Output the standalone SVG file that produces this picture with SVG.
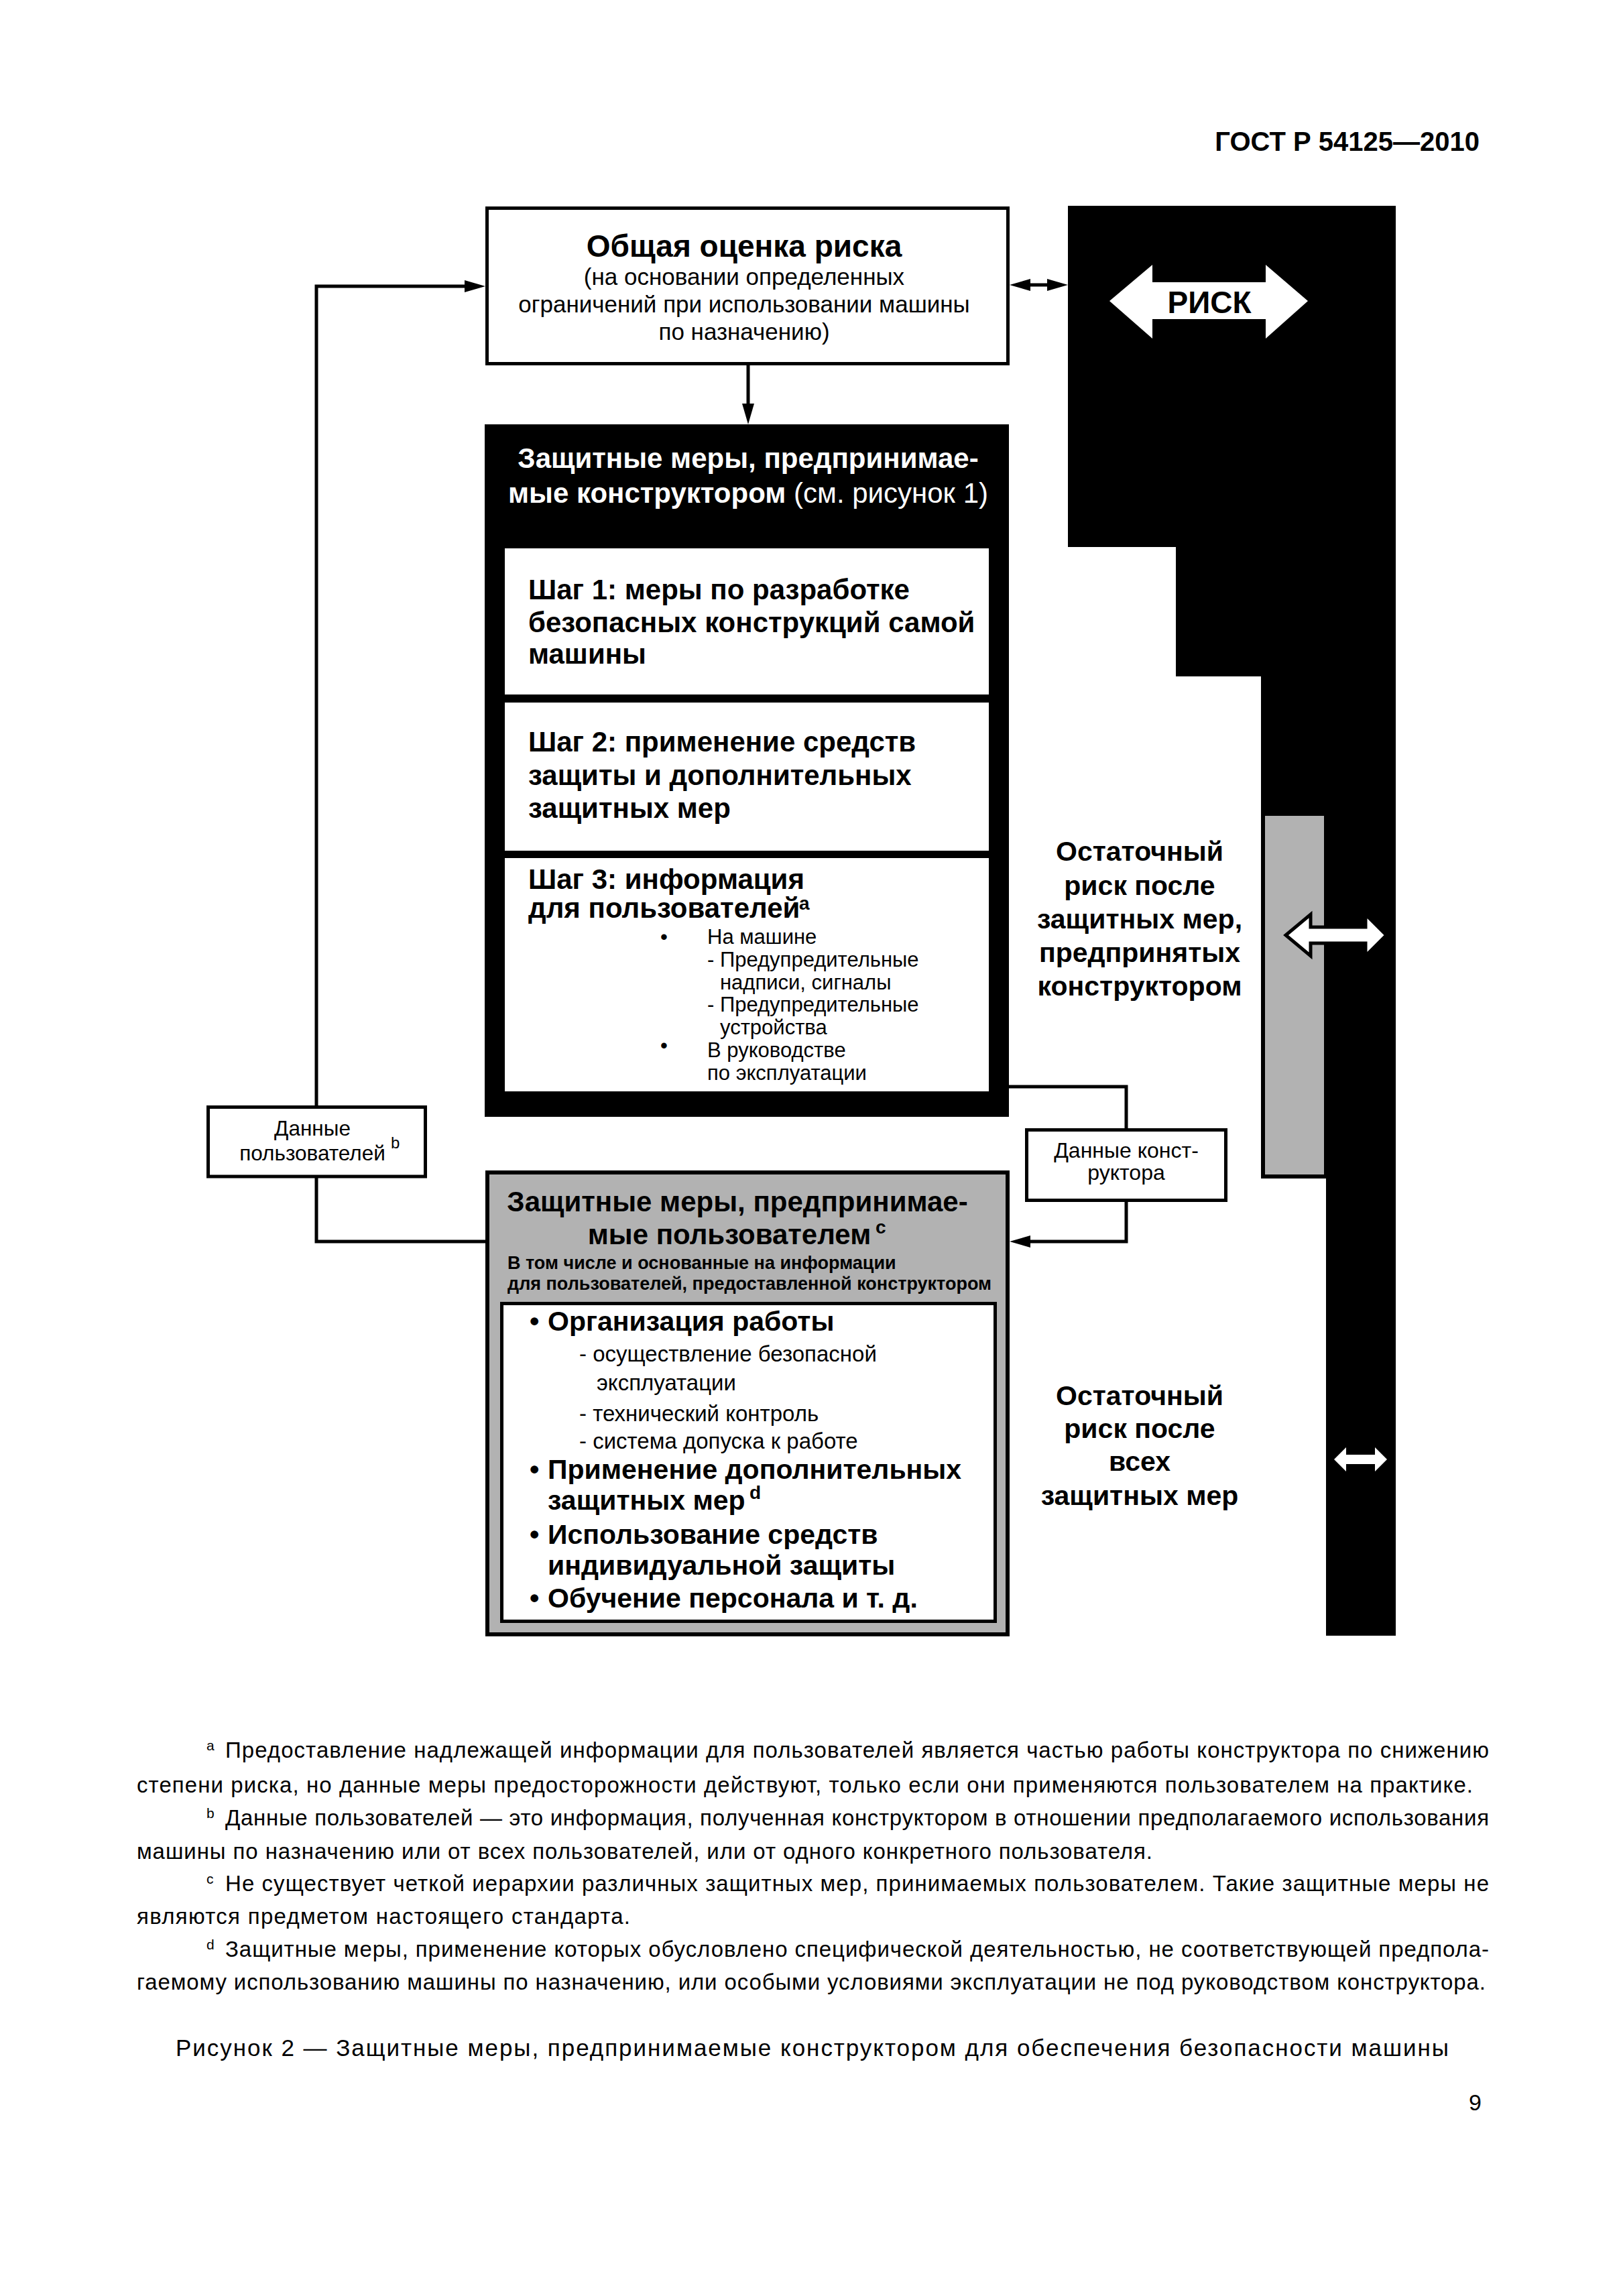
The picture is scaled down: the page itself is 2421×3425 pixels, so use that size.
<svg xmlns="http://www.w3.org/2000/svg" width="2421" height="3425" viewBox="0 0 2421 3425">
<defs>
<style>
text{font-family:"Liberation Sans",Arial,sans-serif;fill:#000}
.b{font-weight:bold}
.w{fill:#fff}
.c{text-anchor:middle}
.e{text-anchor:end}
.ln{fill:none;stroke:#000;stroke-width:5}
.box{fill:#fff;stroke:#000;stroke-width:5}
.fn{font-size:33px}
</style>
<marker id="ah" markerUnits="userSpaceOnUse" markerWidth="32" markerHeight="20" refX="6" refY="9" orient="auto-start-reverse">
<path d="M0,0 L31,9 L0,18 Z" fill="#000"/>
</marker>
</defs>
<rect width="2421" height="3425" fill="#fff"/>
<text class="b e" x="2207" y="225" font-size="40">ГОСТ Р 54125—2010</text>

<g id="risk-scale">
<polygon points="1593,307 2082,307 2082,2440 1978,2440 1978,1758 1881,1758 1881,1009 1754,1009 1754,816 1593,816" fill="#000"/>
<rect x="1884" y="1214" width="94" height="541" fill="#b2b2b2" stroke="#000" stroke-width="6"/>
<polygon points="1655,449 1719,395 1719,421 1888,421 1888,395 1951,449 1888,505 1888,476 1719,476 1719,505" fill="#fff"/>
<text class="b c" x="1804" y="467" font-size="46">РИСК</text>
<polygon points="1918,1395 1955,1364 1955,1383 2037,1383 2037,1364 2068,1395 2037,1426 2037,1407 1955,1407 1955,1426" fill="#fff" stroke="#000" stroke-width="5"/>
<polygon points="1990,2177 2008,2159 2008,2170 2051,2170 2051,2159 2069,2177 2051,2195 2051,2184 2008,2184 2008,2195" fill="#fff"/>
</g>

<g id="residual1" class="b c" font-size="41">
<text x="1700" y="1284">Остаточный</text>
<text x="1700" y="1335">риск после</text>
<text x="1700" y="1385">защитных мер,</text>
<text x="1700" y="1435">предпринятых</text>
<text x="1700" y="1485">конструктором</text>
</g>
<g id="residual2" class="b c" font-size="41">
<text x="1700" y="2096">Остаточный</text>
<text x="1700" y="2145">риск после</text>
<text x="1700" y="2194">всех</text>
<text x="1700" y="2245">защитных мер</text>
</g>

<g id="connectors">
<path class="ln" d="M1116,545 V608" marker-end="url(#ah)"/>
<path class="ln" d="M1531,425 H1568" marker-start="url(#ah)" marker-end="url(#ah)"/>
<path class="ln" d="M724,1852 H472 V1757"/>
<path class="ln" d="M472,1649 V427 H699" marker-end="url(#ah)"/>
<path class="ln" d="M1505,1621 H1680 V1683"/>
<path class="ln" d="M1680,1793 V1852 H1531" marker-end="url(#ah)"/>
</g>

<g id="overall-assessment">
<rect class="box" x="726.5" y="310.5" width="777" height="232"/>
<text class="b c" x="1110" y="383" font-size="46">Общая оценка риска</text>
<text class="c" x="1110" y="425" font-size="35">(на основании определенных</text>
<text class="c" x="1110" y="466" font-size="35">ограничений при использовании машины</text>
<text class="c" x="1110" y="507" font-size="35">по назначению)</text>
</g>

<g id="designer-measures">
<rect x="723" y="633" width="782" height="1033" fill="#000"/>
<text class="b c w" x="1116" y="698" font-size="42">Защитные меры, предпринимае-</text>
<text class="c w" x="1116" y="750" font-size="42"><tspan class="b">мые конструктором</tspan> (см. рисунок 1)</text>
</g>

<g id="step1">
<rect x="753" y="818" width="722" height="218" fill="#fff"/>
<text class="b" x="788" y="894" font-size="42">Шаг 1: меры по разработке</text>
<text class="b" x="788" y="943" font-size="42">безопасных конструкций самой</text>
<text class="b" x="788" y="990" font-size="42">машины</text>
</g>

<g id="step2">
<rect x="753" y="1048" width="722" height="221" fill="#fff"/>
<text class="b" x="788" y="1121" font-size="42">Шаг 2: применение средств</text>
<text class="b" x="788" y="1171" font-size="42">защиты и дополнительных</text>
<text class="b" x="788" y="1220" font-size="42">защитных мер</text>
</g>

<g id="step3">
<rect x="753" y="1280" width="722" height="348" fill="#fff"/>
<text class="b" x="788" y="1326" font-size="42">Шаг 3: информация</text>
<text class="b" x="788" y="1369" font-size="42">для пользователей</text>
<text class="b" x="1192" y="1357" font-size="28">a</text>
<g font-size="31">
<text x="985" y="1408">•</text>
<text x="1055" y="1408">На машине</text>
<text x="1055" y="1442">- Предупредительные</text>
<text x="1074" y="1476">надписи, сигналы</text>
<text x="1055" y="1509">- Предупредительные</text>
<text x="1074" y="1543">устройства</text>
<text x="985" y="1570">•</text>
<text x="1055" y="1577">В руководстве</text>
<text x="1055" y="1611">по эксплуатации</text>
</g>
</g>

<g id="user-data">
<rect class="box" x="310.5" y="1651.5" width="324" height="103.5"/>
<text class="c" x="466" y="1694" font-size="31.5">Данные</text>
<text class="c" x="466" y="1731" font-size="31.5">пользователей</text>
<text x="583" y="1713" font-size="24">b</text>
</g>

<g id="designer-data">
<rect class="box" x="1531.5" y="1685.5" width="297" height="105"/>
<text class="c" x="1680" y="1727" font-size="32">Данные конст-</text>
<text class="c" x="1680" y="1760" font-size="32">руктора</text>
</g>

<g id="user-measures">
<rect x="727" y="1749" width="776" height="689" fill="#b2b2b2" stroke="#000" stroke-width="6"/>
<text class="b c" x="1100" y="1807" font-size="42">Защитные меры, предпринимае-</text>
<text class="b c" x="1088" y="1856" font-size="42">мые пользователем</text>
<text class="b" x="1306" y="1840" font-size="28">c</text>
<text class="b" x="757" y="1893" font-size="27">В том числе и основанные на информации</text>
<text class="b" x="757" y="1924" font-size="27">для пользователей, предоставленной конструктором</text>
<rect class="box" x="748.5" y="1944.5" width="736" height="474"/>
<g class="b" font-size="41">
<text x="790" y="1985">•</text>
<text x="817" y="1985">Организация работы</text>
<text x="790" y="2206">•</text>
<text x="817" y="2206">Применение дополнительных</text>
<text x="817" y="2252">защитных мер</text>
<text x="790" y="2303">•</text>
<text x="817" y="2303">Использование средств</text>
<text x="817" y="2349">индивидуальной защиты</text>
<text x="790" y="2398">•</text>
<text x="817" y="2398">Обучение персонала и т. д.</text>
</g>
<text class="b" x="1118" y="2236" font-size="28">d</text>
<g font-size="33">
<text x="864" y="2031">- осуществление безопасной</text>
<text x="890" y="2074">эксплуатации</text>
<text x="864" y="2120">- технический контроль</text>
<text x="864" y="2161">- система допуска к работе</text>
</g>
</g>

<g id="footnotes" class="fn">
<text x="308" y="2611" font-size="21">a</text>
<text x="336" y="2622" textLength="1885" lengthAdjust="spacing">Предоставление надлежащей информации для пользователей является частью работы конструктора по снижению</text>
<text x="204" y="2674" textLength="1993" lengthAdjust="spacing">степени риска, но данные меры предосторожности действуют, только если они применяются пользователем на практике.</text>
<text x="308" y="2712" font-size="21">b</text>
<text x="336" y="2723" textLength="1885" lengthAdjust="spacing">Данные пользователей — это информация, полученная конструктором в отношении предполагаемого использования</text>
<text x="204" y="2773" textLength="1515" lengthAdjust="spacing">машины по назначению или от всех пользователей, или от одного конкретного пользователя.</text>
<text x="308" y="2810" font-size="21">c</text>
<text x="336" y="2821" textLength="1885" lengthAdjust="spacing">Не существует четкой иерархии различных защитных мер, принимаемых пользователем. Такие защитные меры не</text>
<text x="204" y="2870" textLength="736" lengthAdjust="spacing">являются предметом настоящего стандарта.</text>
<text x="308" y="2908" font-size="21">d</text>
<text x="336" y="2919" textLength="1885" lengthAdjust="spacing">Защитные меры, применение которых обусловлено специфической деятельностью, не соответствующей предпола-</text>
<text x="204" y="2968" textLength="2012" lengthAdjust="spacing">гаемому использованию машины по назначению, или особыми условиями эксплуатации не под руководством конструктора.</text>
</g>
<text x="262" y="3067" font-size="35" textLength="1899" lengthAdjust="spacing">Рисунок 2 — Защитные меры, предпринимаемые конструктором для обеспечения безопасности машины</text>
<text class="e" x="2210" y="3148" font-size="34">9</text>
</svg>
